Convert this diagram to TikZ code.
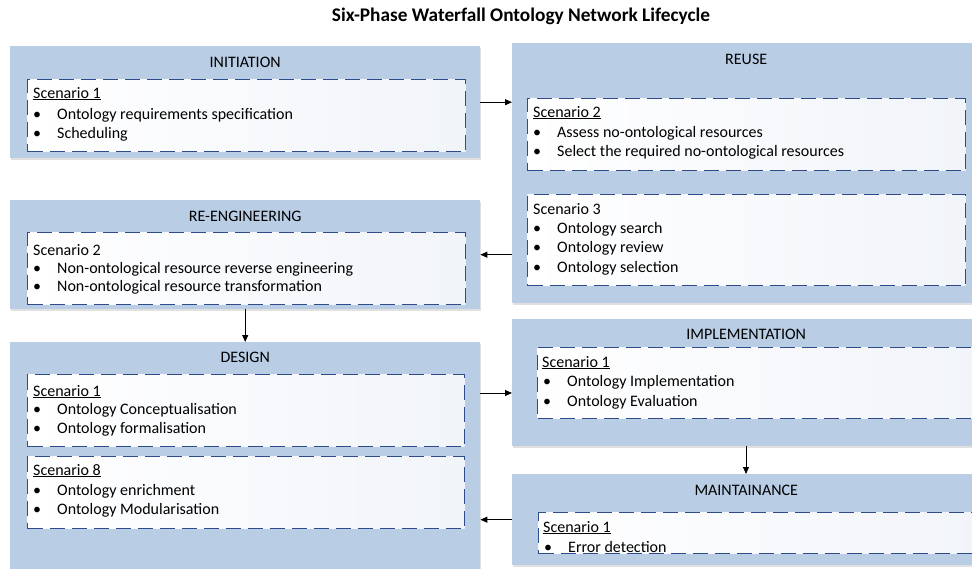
\documentclass[tikz,border=0pt]{standalone}
\usepackage{fontspec}
\setmainfont{Carlito}
\usetikzlibrary{arrows.meta,shadows}

\definecolor{phasefill}{HTML}{B9CDE5}
\definecolor{dashblue}{HTML}{2F4B8A}
\definecolor{panelend}{HTML}{F1F4F9}

\tikzset{
  phase/.style 2 args={fill=phasefill, draw=none, anchor=north west, inner sep=0pt,
    minimum width=#1, minimum height=#2,
    drop shadow={shadow xshift=0.8pt, shadow yshift=-1.5pt, opacity=0.12, fill=black}},
  panel/.style 2 args={draw=dashblue, line width=1.2pt, dash pattern=on 15pt off 7pt,
    left color=white, right color=panelend, anchor=north west, inner sep=0pt,
    minimum width=#1, minimum height=#2},
  phasetitle/.style={font=\fontsize{16}{19}\selectfont, inner sep=0pt, anchor=center},
  line/.style={font=\fontsize{16}{19}\selectfont, inner sep=0pt, anchor=base west},
  dot/.style={font=\fontsize{16}{19}\selectfont, inner sep=0pt, anchor=base},
  arr/.style={line width=1pt, -{Triangle[length=7pt,width=6pt]}}
}

\begin{document}
\begin{tikzpicture}[x=1pt,y=-1pt]
\useasboundingbox (0,0) rectangle (972,568);
\clip (0,0) rectangle (972,568);

% title
\node[font=\fontsize{19.3}{23}\selectfont\bfseries, inner sep=0pt] (title) at (521,16)
  {Six-Phase Waterfall Ontology Network Lifecycle};

% phase boxes
\node[phase={470pt}{112pt}] (init)   at (10,46)  {};
\node[phase={468pt}{260pt}] (reuse)  at (512,43) {};
\node[phase={470pt}{109pt}] (reeng)  at (10,200) {};
\node[phase={470pt}{228pt}] (design) at (10,342) {};
\node[phase={468pt}{127pt}] (impl)   at (512,319) {};
\node[phase={468pt}{91pt}]  (maint)  at (512,474) {};

% phase titles
\node[phasetitle] (initT)   at ([yshift=-16pt]init.north)   {INITIATION};
\node[phasetitle] (reuseT)  at ([yshift=-16pt]reuse.north)  {REUSE};
\node[phasetitle] (reengT)  at ([yshift=-16pt]reeng.north)  {RE-ENGINEERING};
\node[phasetitle] (designT) at ([yshift=-15pt]design.north) {DESIGN};
\node[phasetitle] (implT)   at ([yshift=-15pt]impl.north)   {IMPLEMENTATION};
\node[phasetitle] (maintT)  at ([yshift=-16pt]maint.north)  {MAINTAINANCE};

% scenario panels
\node[panel={438pt}{72pt}] (initP)    at (27,79)   {};
\node[panel={438pt}{72pt}] (reuseP1)  at (527,98)  {};
\node[panel={438pt}{91pt}] (reuseP2)  at (527,194) {};
\node[panel={438pt}{72pt}] (reengP)   at (27,232)  {};
\node[panel={437pt}{72pt}] (designP1) at (27,374)  {};
\node[panel={437pt}{72pt}] (designP2) at (27,456)  {};
\node[panel={445pt}{71pt}] (implP)    at (537,347) {};
\node[panel={445pt}{41pt}] (maintP)   at (538,512) {};

% INITIATION
\node[line] (s1) at (33,98)  {\underline{Scenario 1}};
\node[dot]  (b1a) at (37,119) {•};
\node[line] (t1a) at (57,119) {Ontology requirements specification};
\node[dot]  (b1b) at (37,138) {•};
\node[line] (t1b) at (57,138) {Scheduling};

% REUSE, scenario 2
\node[line] (s2) at (533,117) {\underline{Scenario 2}};
\node[dot]  (b2a) at (537,137) {•};
\node[line] (t2a) at (557,137) {Assess no-ontological resources};
\node[dot]  (b2b) at (537,156) {•};
\node[line] (t2b) at (557,156) {Select the required no-ontological resources};

% REUSE, scenario 3
\node[line] (s3) at (533,214) {Scenario 3};
\node[dot]  (b3a) at (537,233) {•};
\node[line] (t3a) at (557,233) {Ontology search};
\node[dot]  (b3b) at (537,252) {•};
\node[line] (t3b) at (557,252) {Ontology review};
\node[dot]  (b3c) at (537,272) {•};
\node[line] (t3c) at (557,272) {Ontology selection};

% RE-ENGINEERING
\node[line] (s4) at (33,255) {Scenario 2};
\node[dot]  (b4a) at (37,273) {•};
\node[line] (t4a) at (57,273) {Non-ontological resource reverse engineering};
\node[dot]  (b4b) at (37,291) {•};
\node[line] (t4b) at (57,291) {Non-ontological resource transformation};

% DESIGN, scenario 1
\node[line] (s5) at (33,396) {\underline{Scenario 1}};
\node[dot]  (b5a) at (37,414) {•};
\node[line] (t5a) at (57,414) {Ontology Conceptualisation};
\node[dot]  (b5b) at (37,433) {•};
\node[line] (t5b) at (57,433) {Ontology formalisation};

% DESIGN, scenario 8
\node[line] (s6) at (33,475) {\underline{Scenario 8}};
\node[dot]  (b6a) at (37,495) {•};
\node[line] (t6a) at (57,495) {Ontology enrichment};
\node[dot]  (b6b) at (37,514) {•};
\node[line] (t6b) at (57,514) {Ontology Modularisation};

% IMPLEMENTATION
\node[line] (s7) at (542,367) {\underline{Scenario 1}};
\node[dot]  (b7a) at (547,386) {•};
\node[line] (t7a) at (567,386) {Ontology Implementation};
\node[dot]  (b7b) at (547,406) {•};
\node[line] (t7b) at (567,406) {Ontology Evaluation};

% MAINTAINANCE
\node[line] (s8) at (543,532) {\underline{Scenario 1}};
\node[dot]  (b8a) at (548,552) {•};
\node[line] (t8a) at (568,552) {Error detection};

% connectors
\coordinate (dlevel) at (0,393);
\coordinate (icol) at (746,0);
\draw[arr] (init.east) -- (init.east -| reuse.west);
\draw[arr] (reeng.east -| reuse.west) -- (reeng.east);
\draw[arr] (reeng.south) -- (design.north);
\draw[arr] (design.east |- dlevel) -- (impl.west |- dlevel);
\draw[arr] (impl.south -| icol) -- (maint.north -| icol);
\draw[arr] (maint.west) -- (maint.west -| design.east);
\end{tikzpicture}
\end{document}
